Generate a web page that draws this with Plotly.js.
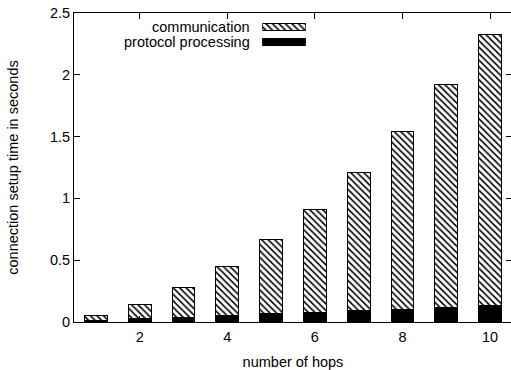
<!DOCTYPE html>
<html>
<head>
<meta charset="utf-8">
<script src="https://cdn.plot.ly/plotly-3.0.1.min.js"></script>
<style>html,body{margin:0;padding:0;overflow:hidden;background:#fff;}#chart{width:514px;height:370px;}</style>
</head>
<body>
<div id="chart"></div>
<script>
var hops = [1, 2, 3, 4, 5, 6, 7, 8, 9, 10];
var protocolProcessing = [0.015, 0.03, 0.04, 0.053, 0.065, 0.08, 0.093, 0.105, 0.117, 0.13];
var communication = [0.038, 0.11, 0.236, 0.393, 0.599, 0.834, 1.117, 1.44, 1.801, 2.2];
var seriesNames = ["communication", "protocol processing"];
var xTicks = [2, 4, 6, 8, 10];
var yTicks = [0, 0.5, 1, 1.5, 2, 2.5];
var yTickLabels = ["0", "0.5", "1", "1.5", "2", "2.5"];

var FONT = {family: "Liberation Sans, Arial, sans-serif", size: 14.5, color: "#000"};
var hatch = {shape: "\\", size: 4.6, solidity: 0.34, fgcolor: "#000", bgcolor: "#fff", fillmode: "replace"};

var traces = [
  {type: "bar", x: hops, y: protocolProcessing, name: seriesNames[1], width: 0.52,
   marker: {color: "#000", line: {color: "#000", width: 1}}, showlegend: false},
  {type: "bar", x: hops, y: communication, name: seriesNames[0], width: 0.52,
   marker: {color: "#fff", pattern: hatch, line: {color: "#000", width: 1}}, showlegend: false},
  // legend swatches (gnuplot style: text then sample)
  {type: "bar", orientation: "h", x: [1], y: [21.3], width: [7.3], base: [0],
   xaxis: "x2", yaxis: "y2", hoverinfo: "skip", showlegend: false,
   marker: {color: "#fff", pattern: hatch, line: {color: "#000", width: 1}}},
  {type: "bar", orientation: "h", x: [1], y: [6.15], width: [7.5], base: [0],
   xaxis: "x2", yaxis: "y2", hoverinfo: "skip", showlegend: false,
   marker: {color: "#000", line: {color: "#000", width: 1}}}
];

var layout = {
  width: 514, height: 370,
  margin: {l: 74, r: 2, t: 13, b: 47.5},
  paper_bgcolor: "#fff", plot_bgcolor: "#fff",
  font: FONT,
  barmode: "stack",
  bargap: 0,
  showlegend: false,
  xaxis: {
    range: [0.5, 10.5], tickvals: xTicks, ticktext: xTicks.map(String),
    ticks: "inside", ticklen: 6, tickwidth: 1, tickcolor: "#000",
    showline: true, linecolor: "#000", linewidth: 1, mirror: "ticks",
    showgrid: false, zeroline: false, tickfont: FONT, ticklabelstandoff: 2,
    title: {text: "number of hops", font: FONT, standoff: 12}
  },
  yaxis: {
    range: [0, 2.5], tickvals: yTicks, ticktext: yTickLabels,
    ticks: "inside", ticklen: 6, tickwidth: 1, tickcolor: "#000",
    showline: true, linecolor: "#000", linewidth: 1, mirror: "ticks",
    showgrid: false, zeroline: false, tickfont: FONT,
    title: {text: "connection setup time in seconds", font: FONT, standoff: 27}
  },
  xaxis2: {domain: [0.43, 0.529], range: [0, 1], anchor: "y2", visible: false, fixedrange: true},
  yaxis2: {domain: [0.887, 0.977], range: [0, 28], anchor: "x2", visible: false, fixedrange: true},
  annotations: [
    {text: seriesNames[0], xref: "paper", yref: "paper", x: 0.4075, y: 0.955, xanchor: "right", yanchor: "middle", showarrow: false, font: FONT},
    {text: seriesNames[1], xref: "paper", yref: "paper", x: 0.4075, y: 0.906, xanchor: "right", yanchor: "middle", showarrow: false, font: FONT}
  ]
};

Plotly.newPlot("chart", traces, layout, {displayModeBar: false, staticPlot: true});
</script>
</body>
</html>
